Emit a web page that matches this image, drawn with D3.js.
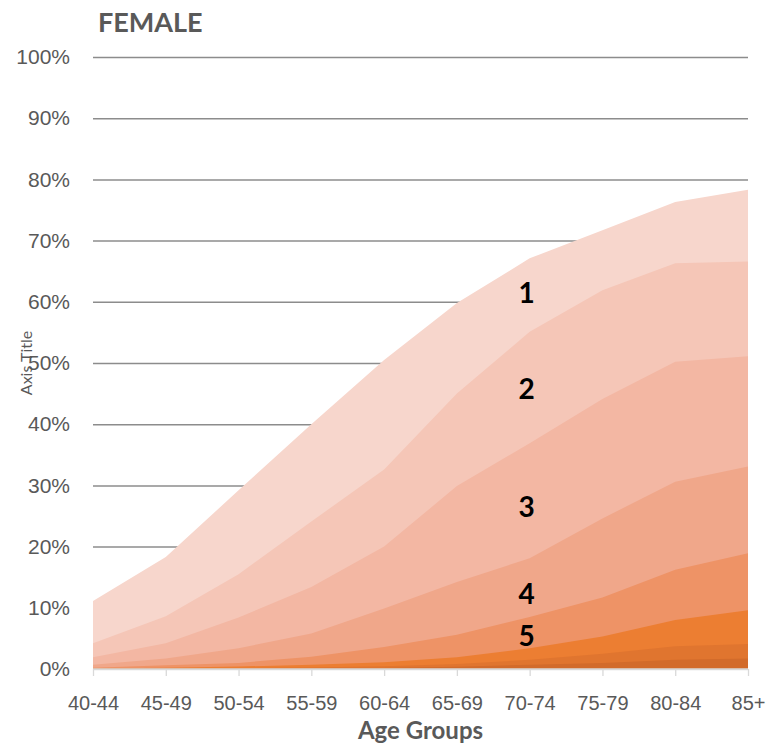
<!DOCTYPE html>
<html>
<head>
<meta charset="utf-8">
<script src="https://cdn.jsdelivr.net/npm/d3@7"></script>
<style>
  html, body { margin: 0; padding: 0; background: #ffffff; }
  svg { display: block; font-family: Lato, "Open Sans", sans-serif; }
</style>
</head>
<body>
<svg id="chart" width="782" height="744"></svg>
<script>
// Age groups along the x axis
const ageGroups = ["40-44", "45-49", "50-54", "55-59", "60-64", "65-69", "70-74", "75-79", "80-84", "85+"];

// Cumulative share (%) for each level, outermost first
const level1 = [11.1, 18.3, 29.2, 40.0, 50.5, 59.8, 67.1, 71.7, 76.3, 78.3];
const level2 = [4.2, 8.6, 15.5, 24.1, 32.6, 45.0, 55.1, 61.9, 66.3, 66.6];
const level3 = [1.9, 4.2, 8.4, 13.4, 20.0, 29.9, 36.9, 44.1, 50.2, 51.1];
const level4 = [0.7, 1.7, 3.4, 5.8, 9.9, 14.2, 18.1, 24.6, 30.6, 33.1];
const level5 = [0.2, 0.6, 1.0, 2.0, 3.6, 5.6, 8.5, 11.7, 16.2, 18.9];
const level6 = [0.1, 0.2, 0.4, 0.7, 1.1, 1.9, 3.4, 5.3, 8.0, 9.6];
const level7 = [0.05, 0.1, 0.15, 0.25, 0.45, 0.8, 1.5, 2.5, 3.7, 4.1];
const level8 = [0.02, 0.04, 0.06, 0.1, 0.18, 0.35, 0.7, 1.0, 1.5, 1.7];

const levels = [level1, level2, level3, level4, level5, level6, level7, level8];
const levelColors = ["#f7d6cc", "#f5c6b7", "#f3b7a3", "#f0a78a", "#ee9366", "#ec7e32", "#e0752f", "#d26b2b"];

// Labelled levels and the category they sit over
const levelLabels = ["1", "2", "3", "4", "5"];
const labelValues = [61.5, 45.8, 26.5, 12.2, 5.4];
const labelGroup = "70-74";

const yTicks = [0, 10, 20, 30, 40, 50, 60, 70, 80, 90, 100];

const svg = d3.select("#chart");
const plotLeft = 93, plotRight = 748, plotTop = 57, plotBottom = 669;

const x = d3.scalePoint().domain(ageGroups).range([plotLeft, plotRight]);
const y = d3.scaleLinear().domain([0, 100]).range([plotBottom, plotTop]);

// Horizontal gridlines with percentage labels
const yAxis = svg.append("g")
  .attr("transform", `translate(${plotLeft},0)`)
  .call(d3.axisLeft(y).tickValues(yTicks).tickSize(-(plotRight - plotLeft)).tickPadding(23).tickFormat(d => d + "%"));
yAxis.select(".domain").remove();
yAxis.selectAll(".tick line")
  .attr("stroke", d => d === 0 ? "#d9d9d9" : "#8c8c8c")
  .attr("stroke-width", 1.5);
yAxis.selectAll(".tick text")
  .attr("fill", "#595959")
  .style("font-size", "21px");

// Overlapping areas, each from the baseline
const area = d3.area()
  .x((d, i) => x(ageGroups[i]))
  .y0(y(0))
  .y1(d => y(d));

svg.append("g").selectAll("path")
  .data(levels)
  .join("path")
  .attr("d", d => area(d))
  .attr("fill", (d, i) => levelColors[i]);

// Category axis
const xAxis = svg.append("g")
  .attr("transform", `translate(0,${plotBottom})`)
  .call(d3.axisBottom(x).tickSize(7).tickPadding(0));
xAxis.select(".domain")
  .attr("stroke", "#d9d9d9")
  .attr("stroke-width", 1.3)
  .attr("d", `M${plotLeft},0H${plotRight}`);
xAxis.selectAll(".tick line").attr("stroke", "#d9d9d9").attr("stroke-width", 1.3);
xAxis.selectAll(".tick text")
  .attr("fill", "#595959")
  .attr("y", 41)
  .attr("dy", null)
  .style("font-size", "20px");

// Level numbers
svg.append("g").selectAll("text")
  .data(levelLabels)
  .join("text")
  .attr("x", x(labelGroup) - 3)
  .attr("y", (d, i) => y(labelValues[i]))
  .attr("dy", "0.36em")
  .attr("text-anchor", "middle")
  .attr("font-weight", "bold")
  .attr("fill", "#000000")
  .style("font-size", "28px")
  .text(d => d);

// Titles
svg.append("text")
  .attr("x", 98)
  .attr("y", 32)
  .attr("font-weight", "bold")
  .attr("fill", "#595959")
  .style("font-size", "27px")
  .text("FEMALE");

svg.append("text")
  .attr("x", (plotLeft + plotRight) / 2)
  .attr("y", 738.5)
  .attr("text-anchor", "middle")
  .attr("font-weight", "bold")
  .attr("fill", "#595959")
  .style("font-size", "24px")
  .text("Age Groups");

svg.append("text")
  .attr("transform", `translate(32,${(plotTop + plotBottom) / 2}) rotate(-90)`)
  .attr("text-anchor", "middle")
  .attr("fill", "#595959")
  .style("font-size", "16px")
  .text("Axis Title");
</script>
</body>
</html>
